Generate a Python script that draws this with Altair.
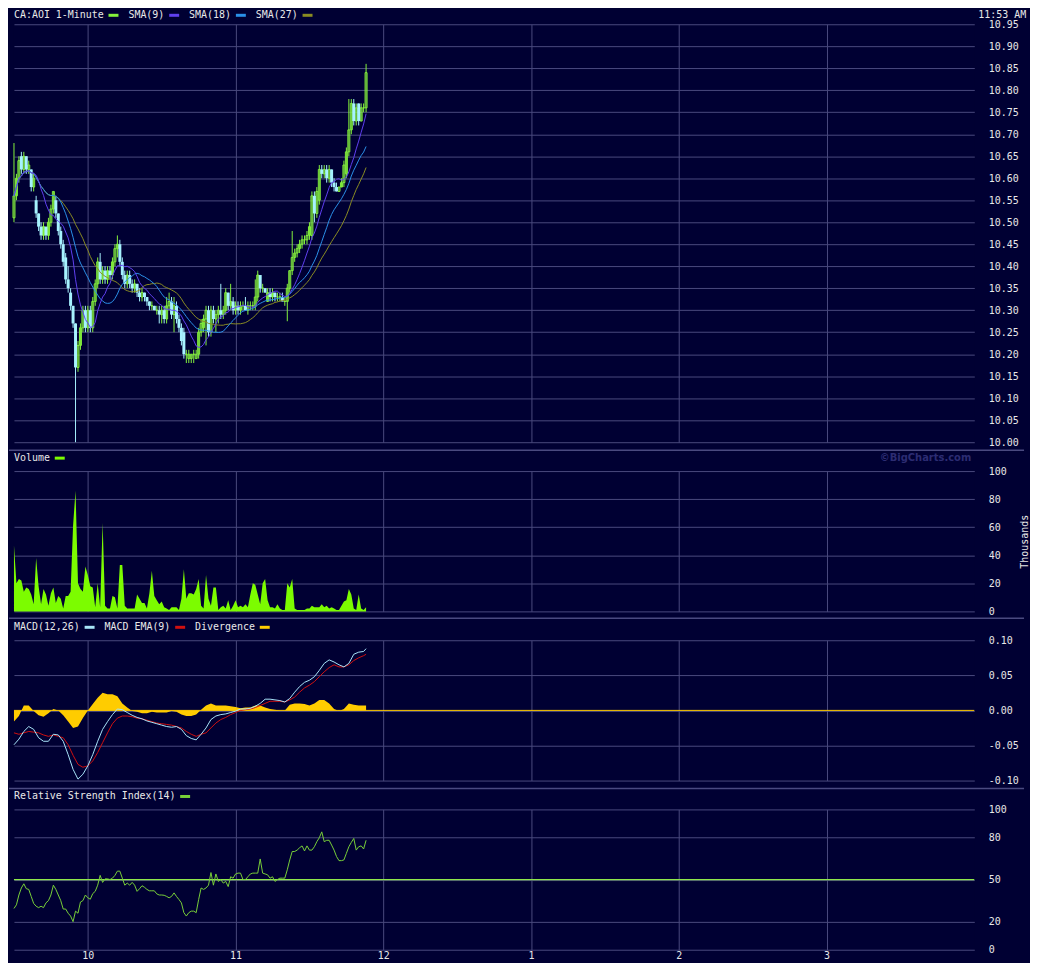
import altair as alt
import pandas as pd

# ---------------- data ----------------
MINUTE = list(range(144))  # minutes after 9:30

OPEN = [10.51, 10.56, 10.60, 10.65, 10.62, 10.65, 10.62, 10.62, 10.58, 10.55,
        10.52, 10.49, 10.47, 10.49, 10.47, 10.50, 10.53, 10.55, 10.52, 10.48,
        10.45, 10.42, 10.37, 10.34, 10.31, 10.27, 10.17, 10.22, 10.26, 10.30,
        10.26, 10.30, 10.26, 10.32, 10.36, 10.41, 10.37, 10.39, 10.37, 10.39,
        10.38, 10.41, 10.44, 10.45, 10.41, 10.38, 10.36, 10.38, 10.36, 10.35,
        10.36, 10.34, 10.33, 10.34, 10.33, 10.32, 10.31, 10.31, 10.30, 10.30,
        10.29, 10.30, 10.28, 10.31, 10.32, 10.29, 10.31, 10.28, 10.26, 10.25,
        10.20, 10.19, 10.19, 10.20, 10.19, 10.20, 10.25, 10.26, 10.28, 10.30,
        10.25, 10.30, 10.28, 10.29, 10.30, 10.29, 10.30, 10.34, 10.31, 10.32,
        10.30, 10.31, 10.30, 10.31, 10.31, 10.30, 10.31, 10.31, 10.31, 10.33,
        10.38, 10.35, 10.35, 10.32, 10.34, 10.33, 10.34, 10.33, 10.33, 10.33,
        10.32, 10.32, 10.35, 10.39, 10.42, 10.43, 10.44, 10.45, 10.46, 10.46,
        10.47, 10.47, 10.56, 10.52, 10.55, 10.62, 10.61, 10.62, 10.60, 10.62,
        10.59, 10.58, 10.57, 10.58, 10.59, 10.61, 10.66, 10.71, 10.77, 10.73,
        10.77, 10.73, 10.76, 10.76]

HIGH = [10.68, 10.61, 10.65, 10.66, 10.66, 10.65, 10.64, 10.62, 10.61, 10.56,
        10.52, 10.50, 10.50, 10.49, 10.51, 10.54, 10.57, 10.56, 10.52, 10.49,
        10.46, 10.43, 10.40, 10.35, 10.31, 10.27, 10.23, 10.27, 10.31, 10.31,
        10.31, 10.31, 10.33, 10.37, 10.42, 10.43, 10.40, 10.40, 10.40, 10.40,
        10.42, 10.45, 10.47, 10.46, 10.42, 10.39, 10.39, 10.39, 10.37, 10.37,
        10.36, 10.35, 10.35, 10.34, 10.33, 10.32, 10.32, 10.31, 10.31, 10.31,
        10.31, 10.31, 10.33, 10.34, 10.33, 10.33, 10.32, 10.29, 10.27, 10.26,
        10.21, 10.21, 10.20, 10.21, 10.21, 10.26, 10.28, 10.29, 10.31, 10.31,
        10.31, 10.31, 10.30, 10.31, 10.36, 10.31, 10.35, 10.34, 10.36, 10.33,
        10.32, 10.32, 10.32, 10.32, 10.33, 10.32, 10.32, 10.32, 10.37, 10.39,
        10.38, 10.36, 10.35, 10.35, 10.35, 10.35, 10.34, 10.34, 10.34, 10.34,
        10.33, 10.36, 10.39, 10.48, 10.44, 10.45, 10.46, 10.47, 10.47, 10.48,
        10.50, 10.57, 10.57, 10.58, 10.63, 10.63, 10.63, 10.63, 10.63, 10.62,
        10.60, 10.59, 10.58, 10.60, 10.64, 10.67, 10.78, 10.78, 10.78, 10.77,
        10.77, 10.77, 10.77, 10.86]

LOW = [10.50, 10.55, 10.59, 10.61, 10.61, 10.61, 10.61, 10.57, 10.57, 10.51,
       10.48, 10.46, 10.46, 10.46, 10.46, 10.49, 10.52, 10.51, 10.47, 10.44,
       10.40, 10.36, 10.34, 10.30, 10.26, 10.00, 10.16, 10.21, 10.25, 10.25,
       10.25, 10.25, 10.25, 10.31, 10.35, 10.36, 10.36, 10.36, 10.36, 10.37,
       10.37, 10.40, 10.42, 10.40, 10.37, 10.35, 10.35, 10.35, 10.34, 10.34,
       10.33, 10.32, 10.32, 10.32, 10.31, 10.30, 10.30, 10.30, 10.29, 10.27,
       10.27, 10.27, 10.27, 10.30, 10.28, 10.25, 10.27, 10.25, 10.22, 10.19,
       10.18, 10.18, 10.18, 10.18, 10.19, 10.19, 10.24, 10.25, 10.22, 10.24,
       10.24, 10.27, 10.25, 10.27, 10.28, 10.28, 10.29, 10.30, 10.30, 10.29,
       10.29, 10.29, 10.29, 10.30, 10.30, 10.29, 10.30, 10.30, 10.30, 10.32,
       10.34, 10.34, 10.34, 10.32, 10.32, 10.32, 10.32, 10.32, 10.32, 10.32,
       10.31, 10.275, 10.34, 10.38, 10.41, 10.42, 10.43, 10.44, 10.45, 10.45,
       10.46, 10.46, 10.50, 10.51, 10.54, 10.60, 10.60, 10.59, 10.59, 10.58,
       10.57, 10.57, 10.57, 10.58, 10.58, 10.60, 10.65, 10.70, 10.72, 10.72,
       10.72, 10.73, 10.75, 10.75]

CLOSE = [10.56, 10.60, 10.64, 10.62, 10.65, 10.62, 10.63, 10.58, 10.60, 10.52,
         10.49, 10.47, 10.49, 10.47, 10.50, 10.53, 10.57, 10.52, 10.48, 10.45,
         10.41, 10.37, 10.35, 10.31, 10.27, 10.17, 10.22, 10.26, 10.30, 10.26,
         10.30, 10.26, 10.32, 10.36, 10.41, 10.37, 10.39, 10.37, 10.39, 10.38,
         10.41, 10.44, 10.45, 10.41, 10.38, 10.36, 10.38, 10.36, 10.35, 10.36,
         10.34, 10.33, 10.34, 10.33, 10.32, 10.31, 10.31, 10.30, 10.30, 10.29,
         10.30, 10.28, 10.31, 10.32, 10.29, 10.31, 10.28, 10.26, 10.23, 10.20,
         10.20, 10.20, 10.20, 10.20, 10.20, 10.25, 10.27, 10.28, 10.30, 10.25,
         10.30, 10.28, 10.29, 10.30, 10.29, 10.30, 10.34, 10.31, 10.32, 10.30,
         10.31, 10.30, 10.31, 10.31, 10.30, 10.31, 10.31, 10.31, 10.33, 10.38,
         10.35, 10.35, 10.34, 10.34, 10.33, 10.34, 10.33, 10.33, 10.33, 10.32,
         10.32, 10.35, 10.39, 10.42, 10.43, 10.44, 10.45, 10.46, 10.46, 10.47,
         10.49, 10.56, 10.52, 10.57, 10.62, 10.61, 10.62, 10.60, 10.62, 10.59,
         10.58, 10.57, 10.58, 10.59, 10.63, 10.66, 10.71, 10.77, 10.73, 10.76,
         10.73, 10.76, 10.76, 10.84]

VOLUME_K = [47, 20, 23, 22, 14, 17, 16, 12, 5, 38,
            18, 5, 16, 12, 4, 13, 17, 6, 11, 9,
            2, 11, 11, 14, 61, 86, 20, 16, 14, 32,
            26, 18, 17, 3, 20, 3, 63, 4, 2, 2,
            11, 10, 2, 33, 33, 4, 2, 2, 2, 2,
            12, 9, 6, 6, 2, 13, 29, 11, 8, 5,
            7, 3, 2, 1, 3, 3, 3, 1, 9, 30,
            9, 13, 13, 12, 16, 23, 4, 2, 26, 9,
            4, 17, 17, 1, 3, 4, 2, 8, 1, 4,
            8, 3, 4, 3, 5, 3, 12, 20, 19, 12,
            5, 20, 23, 8, 3, 3, 2, 5, 2, 1,
            1, 20, 17, 23, 2, 1, 1, 1, 1, 2,
            2, 4, 3, 3, 3, 5, 3, 4, 2, 3,
            2, 1, 1, 4, 7, 8, 16, 12, 2, 1,
            12, 2, 1, 3]

IND_MINUTE = list(range(0, 143, 2)) + [143]

MACD = [-0.049, -0.041, -0.030, -0.023, -0.027, -0.039, -0.044, -0.044, -0.034, -0.035,
        -0.044, -0.063, -0.084, -0.098, -0.091, -0.079, -0.063, -0.044, -0.027, -0.016,
        -0.006, 0.002, 0.001, -0.003, -0.007, -0.010, -0.012, -0.015, -0.017, -0.019,
        -0.021, -0.023, -0.024, -0.023, -0.027, -0.036, -0.040, -0.042, -0.034, -0.025,
        -0.013, -0.008, -0.006, -0.005, -0.003, -0.001, 0.002, 0.002, 0.003, 0.006,
        0.010, 0.016, 0.016, 0.015, 0.014, 0.012, 0.017, 0.026, 0.034, 0.040,
        0.043, 0.048, 0.057, 0.067, 0.072, 0.069, 0.065, 0.062, 0.067, 0.080,
        0.083, 0.084, 0.088]

MACD_EMA = [-0.032, -0.034, -0.032, -0.030, -0.031, -0.032, -0.035, -0.037, -0.035, -0.037,
            -0.039, -0.049, -0.064, -0.077, -0.081, -0.079, -0.072, -0.060, -0.046, -0.032,
            -0.019, -0.011, -0.008, -0.008, -0.009, -0.011, -0.012, -0.014, -0.016, -0.018,
            -0.019, -0.020, -0.021, -0.023, -0.025, -0.030, -0.034, -0.037, -0.034, -0.032,
            -0.025, -0.018, -0.013, -0.010, -0.006, -0.003, 0.000, 0.001, 0.002, 0.004,
            0.007, 0.010, 0.013, 0.013, 0.013, 0.012, 0.015, 0.019, 0.026, 0.032,
            0.036, 0.041, 0.048, 0.055, 0.061, 0.065, 0.062, 0.062, 0.065, 0.071,
            0.075, 0.078, 0.080]

DIVERGENCE = [-0.016, -0.008, 0.007, 0.007, -0.001, -0.007, -0.009, -0.004, 0.002, 0.000,
              -0.007, -0.016, -0.025, -0.023, -0.011, 0.000, 0.009, 0.018, 0.025, 0.023,
              0.023, 0.020, 0.010, 0.004, -0.001, -0.002, -0.004, -0.004, -0.002, -0.003,
              -0.003, -0.003, -0.001, -0.002, -0.006, -0.008, -0.008, -0.006, 0.001, 0.007,
              0.010, 0.007, 0.007, 0.007, 0.006, 0.005, 0.003, 0.004, 0.004, 0.007,
              0.007, 0.004, 0.002, 0.001, 0.000, 0.000, 0.008, 0.010, 0.010, 0.009,
              0.007, 0.010, 0.015, 0.015, 0.010, 0.002, -0.001, 0.002, 0.010, 0.008,
              0.007, 0.007, 0.007]

RSI = [29.4, 32, 39, 44, 47, 43.5, 43, 38, 33, 31,
       30, 31, 30, 33.4, 35, 39, 46, 43, 39, 35,
       29, 29, 26, 24, 20, 27.5, 26, 34, 35, 39,
       37, 36, 40, 41.6, 46, 53, 48, 50.5, 50.5, 50,
       51, 53, 56, 56, 51, 46, 47.5, 46, 48, 46,
       41.6, 43.5, 45.6, 44.5, 43, 42, 42, 42, 39.8, 39,
       39, 38.8, 38, 37, 38, 40.5, 38, 35.8, 33.4, 26.4,
       24, 26.4, 27.5, 27.5, 26.4, 35.8, 44, 43, 44, 46,
       55, 46, 54, 48.7, 50, 47.5, 48.7, 45, 52, 51,
       54, 54.6, 54.6, 50, 50, 52, 54, 54.6, 54.6, 54.6,
       64.7, 54.6, 54, 53.4, 51, 52, 48.7, 50, 51, 51,
       51, 57, 64, 70, 70, 71, 72.7, 74, 70.4, 74,
       71, 71, 73.4, 77, 79.8, 84, 77, 78, 78, 74.6,
       71, 66.4, 63.5, 63.5, 64, 68.7, 73.4, 76.5, 79.3, 71,
       73.4, 74, 71.8, 78]

HOUR_TICKS = [30, 90, 150, 210, 270, 330]
PRICE_TICKS = [10.00, 10.05, 10.10, 10.15, 10.20, 10.25, 10.30, 10.35, 10.40, 10.45,
               10.50, 10.55, 10.60, 10.65, 10.70, 10.75, 10.80, 10.85, 10.90, 10.95]
VOLUME_TICKS = [0, 20, 40, 60, 80, 100]
MACD_TICKS = [-0.10, -0.05, 0.00, 0.05, 0.10]
RSI_TICKS = [0, 20, 50, 80, 100]

# ---------------- style ----------------
BG = "#000033"
GRID = "#4a4a7e"
SEP = "#4a4a80"
TEXT = "#e8e8e8"
FONT = "DejaVu Sans Mono"
UP = "#84f23c"
DOWN = "#a6f2ff"
SMA9_C = "#6040f0"
SMA18_C = "#2a90e8"
SMA27_C = "#8a8c22"
VOL_C = "#7cfc00"
MACD_C = "#a8e4f8"
EMA_C = "#d01010"
DIV_C = "#ffcc00"
RSI_C = "#78d038"
RSI50_C = "#8ee84a"

W = 965
FULL_RIGHT = 1015
H_PRICE, H_VOL, H_MACD, H_RSI, GAP = 420, 141, 141, 141, 29

px = pd.DataFrame(dict(m=MINUTE, open=OPEN, high=HIGH, low=LOW, close=CLOSE))
vol = pd.DataFrame(dict(m=MINUTE, v=VOLUME_K))
ind = pd.DataFrame(dict(m=IND_MINUTE, macd=MACD, ema=MACD_EMA, div=DIVERGENCE))
rsi = pd.DataFrame(dict(m=MINUTE, rsi=RSI))
ONE = pd.DataFrame({"k": [0]})

XSCALE = alt.Scale(domain=[0, 390], nice=False, zero=False, padding=0)


def xenc(labels=False):
    if labels:
        ax = alt.Axis(values=HOUR_TICKS, grid=True, labels=True, title=None,
                      labelExpr="'' + ((9 + (datum.value + 30) / 60 - 1) % 12 + 1)",
                      labelPadding=1, labelAlign="center", labelBaseline="top")
    else:
        ax = alt.Axis(values=HOUR_TICKS, grid=True, labels=False, title=None)
    return alt.X("m:Q", scale=XSCALE, axis=ax)


def legend(items, y):
    layers = []
    pos = 0
    for label, color in items:
        layers.append(alt.Chart(ONE).mark_text(align="left", baseline="middle", font=FONT,
                                               fontSize=10, color=TEXT, text=label)
                      .encode(x=alt.value(pos), y=alt.value(y)))
        pos += len(label) * 6 + 5
        layers.append(alt.Chart(ONE).mark_rule(color=color, strokeWidth=3)
                      .encode(x=alt.value(pos), x2=alt.value(pos + 10), y=alt.value(y)))
        pos += 20
    return layers


def separator(y):
    return alt.Chart(ONE).mark_rule(color=SEP, strokeWidth=1.5).encode(
        x=alt.value(-5), x2=alt.value(FULL_RIGHT), y=alt.value(y))


# ---------------- price panel ----------------
PSCALE = alt.Scale(domain=[10.0, 10.95], nice=False, zero=False)
PAXIS = alt.Axis(orient="right", values=PRICE_TICKS, format=".2f", grid=True, title=None,
                 labelPadding=14)
up_cond = "datum.close >= datum.open"

wicks = alt.Chart(px).mark_rule(strokeWidth=1).encode(
    x=xenc(), y=alt.Y("low:Q", scale=PSCALE, axis=PAXIS), y2="high:Q",
    color=alt.condition(up_cond, alt.value(UP), alt.value(DOWN)))
up_body = alt.Chart(px).transform_filter(up_cond).mark_bar(
    size=2, color=UP, fillOpacity=0, stroke=UP, strokeWidth=1).encode(
    x=xenc(), y=alt.Y("open:Q", scale=PSCALE, axis=PAXIS), y2="close:Q")
down_body = alt.Chart(px).transform_filter("datum.close < datum.open").mark_bar(
    size=3, color=DOWN).encode(
    x=xenc(), y=alt.Y("open:Q", scale=PSCALE, axis=PAXIS), y2="close:Q")


def sma(n, color):
    name = f"sma{n}"
    return alt.Chart(px).transform_window(
        **{name: "mean(close)"}, frame=[-(n - 1), 0], sort=[alt.SortField("m")]
    ).mark_line(color=color, strokeWidth=1).encode(
        x=xenc(), y=alt.Y(f"{name}:Q", scale=PSCALE, axis=PAXIS))


clock = alt.Chart(ONE).mark_text(align="left", baseline="middle", font=FONT, fontSize=10,
                                 color=TEXT, text="11:53 AM").encode(
    x=alt.value(W + 4), y=alt.value(-9))

price = alt.layer(
    wicks, up_body, down_body,
    sma(27, SMA27_C), sma(18, SMA18_C), sma(9, SMA9_C),
    *legend([("CA:AOI 1-Minute", UP), ("SMA(9)", SMA9_C), ("SMA(18)", SMA18_C),
             ("SMA(27)", SMA27_C)], -9),
    clock, separator(H_PRICE + 8),
).properties(width=W, height=H_PRICE)

# ---------------- volume panel ----------------
VAXIS = alt.Axis(orient="right", values=VOLUME_TICKS, grid=True, title="Thousands",
                 titleAngle=270, titleBaseline="top", titlePadding=13, labelPadding=14)
vol_area = alt.Chart(vol).mark_area(color=VOL_C).encode(
    x=xenc(), y=alt.Y("v:Q", scale=alt.Scale(domain=[0, 100], nice=False), axis=VAXIS))
watermark = alt.Chart(ONE).mark_text(align="right", baseline="middle", font="DejaVu Sans",
                                     fontSize=10, fontWeight="bold", color="#2c2c72",
                                     text="\u00a9BigCharts.com").encode(
    x=alt.value(W - 3), y=alt.value(-13))
volume = alt.layer(
    vol_area, *legend([("Volume", VOL_C)], -13), watermark, separator(H_VOL + 7)
).properties(width=W, height=H_VOL)

# ---------------- MACD panel ----------------
MSCALE = alt.Scale(domain=[-0.10, 0.10], nice=False, zero=False)
MAXIS = alt.Axis(orient="right", values=MACD_TICKS, grid=True, title=None, labelPadding=14,
                 labelExpr="(datum.value < 0 ? '-' : '') + format(abs(datum.value), '.2f')")
div_area = alt.Chart(ind).mark_area(color=DIV_C).encode(
    x=xenc(), y=alt.Y("div:Q", scale=MSCALE, axis=MAXIS))
zero_line = alt.Chart(ONE).mark_rule(color=DIV_C, strokeWidth=1).encode(
    y=alt.datum(0, scale=MSCALE, axis=MAXIS))
macd_line = alt.Chart(ind).mark_line(color=MACD_C, strokeWidth=1).encode(
    x=xenc(), y=alt.Y("macd:Q", scale=MSCALE, axis=MAXIS))
ema_line = alt.Chart(ind).mark_line(color=EMA_C, strokeWidth=1).encode(
    x=xenc(), y=alt.Y("ema:Q", scale=MSCALE, axis=MAXIS))
macd = alt.layer(
    div_area, zero_line, ema_line, macd_line,
    *legend([("MACD(12,26)", MACD_C), ("MACD EMA(9)", EMA_C), ("Divergence", DIV_C)], -13),
    separator(H_MACD + 8),
).properties(width=W, height=H_MACD)

# ---------------- RSI panel ----------------
RSCALE = alt.Scale(domain=[0, 100], nice=False)
RAXIS = alt.Axis(orient="right", values=RSI_TICKS, grid=True, title=None, labelPadding=14)
rsi_line = alt.Chart(rsi).mark_line(color=RSI_C, strokeWidth=1).encode(
    x=xenc(labels=True), y=alt.Y("rsi:Q", scale=RSCALE, axis=RAXIS))
rsi50 = alt.Chart(ONE).mark_rule(color=RSI50_C, strokeWidth=1.2).encode(
    y=alt.datum(50, scale=RSCALE, axis=RAXIS))
rsi_panel = alt.layer(
    rsi50, rsi_line, *legend([("Relative Strength Index(14)", RSI_C)], -13)
).properties(width=W, height=H_RSI)

chart = alt.vconcat(price, volume, macd, rsi_panel, spacing=GAP, bounds="flush").properties(
    background=BG, padding={"left": 0, "top": 0, "right": 0, "bottom": 0}
).configure_view(stroke=None, fill=BG).configure_axis(
    gridColor=GRID, gridWidth=1, domain=False, ticks=False, tickSize=0,
    labelFont=FONT, labelFontSize=10, labelColor=TEXT, labelOverlap=False, labelFlush=False,
    titleFont=FONT, titleFontSize=10, titleColor=TEXT, titleFontWeight="normal",
)

chart.save("out.html", embed_options={"renderer": "svg", "actions": False})
